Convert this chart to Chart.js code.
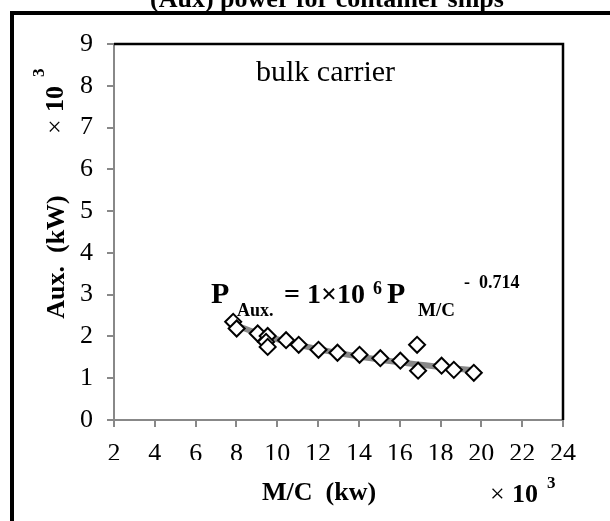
<!DOCTYPE html>
<html>
<head>
<meta charset="utf-8">
<script src="https://cdn.jsdelivr.net/npm/chart.js@4"></script>
<style>
  html, body { margin: 0; padding: 0; background: #fff; }
  #wrap { width: 610px; height: 521px; position: relative; }
</style>
</head>
<body>
<div id="wrap"><canvas id="auxChart"></canvas></div>
<script>
// M/C power and auxiliary power, both in 10^3 kW
var mcPower  = [7.84, 8.01, 9.04, 9.53, 9.45, 9.53, 10.43, 11.05, 12.02, 12.95, 14.03, 15.05, 16.03, 16.85, 16.90, 18.05, 18.65, 19.63];
var auxPower = [2.35, 2.19, 2.07, 2.01, 1.87, 1.75, 1.91, 1.80, 1.68, 1.61, 1.56, 1.48, 1.42, 1.80, 1.18, 1.30, 1.20, 1.13];
var xTicks = [2, 4, 6, 8, 10, 12, 14, 16, 18, 20, 22, 24];
var yTicks = [0, 1, 2, 3, 4, 5, 6, 7, 8, 9];
var trendExp = -0.714;

var serif = "'Liberation Serif', 'Times New Roman', serif";

var points = mcPower.map(function (x, i) { return { x: x, y: auxPower[i] }; });

// power trend line with the stated exponent, coefficient fitted in log space
var lnC = 0;
points.forEach(function (p) { lnC += Math.log(p.y) - trendExp * Math.log(p.x); });
lnC /= points.length;
var xLo = Math.min.apply(null, mcPower), xHi = Math.max.apply(null, mcPower);
var trend = [];
for (var k = 0; k <= 30; k++) {
    var tx = xLo + (xHi - xLo) * k / 30;
    trend.push({ x: tx, y: Math.exp(lnC) * Math.pow(tx, trendExp) });
}

var decorations = {
    id: 'decorations',
    afterDraw: function (chart) {
        var ctx = chart.ctx, a = chart.chartArea;
        ctx.save();
        ctx.fillStyle = '#000';
        ctx.strokeStyle = '#000';

        // outer frame (left + top)
        ctx.lineWidth = 4;
        ctx.beginPath();
        ctx.moveTo(12, 521); ctx.lineTo(12, 13); ctx.lineTo(610, 13);
        ctx.stroke();

        // plot frame top + right
        ctx.lineWidth = 2.5;
        ctx.beginPath();
        ctx.moveTo(a.left, a.top); ctx.lineTo(a.right, a.top); ctx.lineTo(a.right, a.bottom);
        ctx.stroke();

        ctx.textBaseline = 'alphabetic';
        ctx.textAlign = 'center';
        ctx.font = 'bold 26px ' + serif;
        ctx.fillText('(Aux) power for container ships', 327, 7);

        ctx.textAlign = 'left';
        ctx.font = '30px ' + serif;
        ctx.fillText('bulk carrier', 256, 81);

        // formula
        ctx.font = 'bold 30px ' + serif;
        ctx.fillText('P', 211, 303);
        ctx.font = 'bold 18px ' + serif;
        ctx.fillText('Aux.', 237, 316);
        ctx.font = 'bold 28px ' + serif;
        ctx.fillText('= 1\u00d710', 284, 303);
        ctx.font = 'bold 18px ' + serif;
        ctx.fillText('6', 373, 294);
        ctx.font = 'bold 30px ' + serif;
        ctx.fillText('P', 387, 303);
        ctx.font = 'bold 19px ' + serif;
        ctx.fillText('M/C', 418, 316);
        ctx.font = 'bold 18px ' + serif;
        ctx.fillText('-  0.714', 464, 288);

        // x axis title
        ctx.font = 'bold 26px ' + serif;
        ctx.fillText('M/C  (kw)', 262, 500);
        ctx.font = '26px ' + serif;
        ctx.fillText('\u00d7', 490, 502);
        ctx.font = 'bold 26px ' + serif;
        ctx.fillText('10', 512, 502);
        ctx.font = 'bold 17px ' + serif;
        ctx.fillText('3', 547, 488);

        // y axis title (rotated)
        ctx.save();
        ctx.translate(64, 257);
        ctx.rotate(-Math.PI / 2);
        ctx.textAlign = 'center';
        ctx.font = 'bold 26px ' + serif;
        ctx.fillText('Aux.  (kW)', 0, 0);
        ctx.restore();

        ctx.save();
        ctx.translate(63, 134);
        ctx.rotate(-Math.PI / 2);
        ctx.textAlign = 'left';
        ctx.font = '26px ' + serif;
        ctx.fillText('\u00d7', 0, 0);
        ctx.font = 'bold 26px ' + serif;
        ctx.fillText('10', 22, 0);
        ctx.font = 'bold 17px ' + serif;
        ctx.fillText('3', 57, -19);
        ctx.restore();

        ctx.restore();
    }
};

var axisGrid = { drawOnChartArea: false, drawTicks: true, tickLength: 7, color: '#888', lineWidth: 2 };

new Chart(document.getElementById('auxChart'), {
    type: 'scatter',
    data: {
        datasets: [{
            label: 'Aux',
            data: points,
            pointStyle: 'rectRot',
            pointRadius: 8,
            pointBorderWidth: 2,
            pointBorderColor: '#000',
            pointBackgroundColor: '#fff',
            showLine: false
        }, {
            label: 'Power trend',
            data: trend,
            showLine: true,
            borderColor: '#888',
            borderWidth: 6,
            pointRadius: 0,
            fill: false
        }]
    },
    options: {
        responsive: true,
        maintainAspectRatio: false,
        animation: false,
        layout: { padding: { left: 0, top: 44, right: 47, bottom: 61 } },
        plugins: {
            legend: { display: false },
            tooltip: { enabled: false }
        },
        scales: {
            x: {
                type: 'linear',
                min: xTicks[0],
                max: xTicks[xTicks.length - 1],
                afterBuildTicks: function (axis) { axis.ticks = xTicks.map(function (v) { return { value: v }; }); },
                afterFit: function (axis) { axis.height = 40; },
                ticks: { color: '#000', font: { family: serif, size: 26 }, padding: 12, maxRotation: 0 },
                grid: axisGrid,
                border: { color: '#888', width: 2 }
            },
            y: {
                min: yTicks[0],
                max: yTicks[yTicks.length - 1],
                afterBuildTicks: function (axis) { axis.ticks = yTicks.map(function (v) { return { value: v }; }); },
                afterFit: function (axis) { axis.width = 114; },
                ticks: { color: '#000', font: { family: serif, size: 26 }, padding: 14 },
                grid: axisGrid,
                border: { color: '#888', width: 2 }
            }
        }
    },
    plugins: [decorations]
});
</script>
</body>
</html>
